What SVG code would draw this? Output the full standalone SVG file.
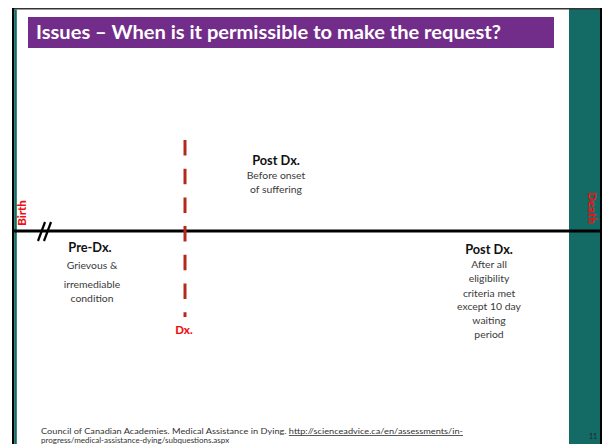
<svg xmlns="http://www.w3.org/2000/svg" width="602" height="444" viewBox="0 0 602 444">
<style>
text{font-family:Lato,"Liberation Sans",Arial,sans-serif}
.h{font-weight:bold;font-size:12.8px;fill:#111;text-anchor:middle}
.b{font-size:10.4px;fill:#3a3a3a;text-anchor:middle}
.red{font-weight:900;font-size:11.5px;fill:#ee1111}
.foot{font-size:8px;fill:#333}
</style>
<rect x="0" y="0" width="602" height="444" fill="#fff"/>
<g id="frame">
<rect x="569" y="9" width="31" height="435" fill="#146b66"/>
<line x1="12" y1="8.8" x2="602" y2="8.8" stroke="#333" stroke-width="1.6"/>
<rect x="12" y="8" width="2.2" height="436" fill="#000"/>
<rect x="14.2" y="9.5" width="2.6" height="434.5" fill="#146b66"/>
<rect x="600" y="8" width="2" height="436" fill="#000"/>
<text x="593" y="439" font-size="7" fill="#222" text-anchor="middle">11</text>
</g>
<g id="title">
<rect x="28" y="17" width="526" height="31" fill="#722d8a"/>
<text x="36" y="39" font-size="18" font-weight="bold" fill="#fff" textLength="465" lengthAdjust="spacingAndGlyphs">Issues – When is it permissible to make the request?</text>
</g>
<g id="connectors">
<line x1="14" y1="231" x2="600" y2="231" stroke="#000" stroke-width="3"/>
<line x1="185" y1="140" x2="185" y2="317" stroke="#b5281c" stroke-width="3" stroke-dasharray="15.5 13.2"/>
<line x1="38" y1="241" x2="45" y2="222" stroke="#000" stroke-width="2.2"/>
<line x1="44" y1="241" x2="51" y2="222" stroke="#000" stroke-width="2.2"/>
</g>
<g id="birth">
<text class="red" transform="translate(26,213) rotate(-90)" text-anchor="middle">Birth</text>
</g>
<g id="death">
<text class="red" transform="translate(588,208) rotate(90)" text-anchor="middle">Death</text>
</g>
<g id="dx">
<text class="red" x="184" y="334" text-anchor="middle">Dx.</text>
</g>
<g id="pre-dx">
<text class="h" x="90" y="252">Pre-Dx.</text>
<text class="b" x="92" y="269">Grievous &amp;</text>
<text class="b" x="92" y="288">irremediable</text>
<text class="b" x="92" y="302">condition</text>
</g>
<g id="post-dx-1">
<text class="h" x="276" y="165">Post Dx.</text>
<text class="b" x="276" y="179">Before onset</text>
<text class="b" x="276" y="193">of suffering</text>
</g>
<g id="post-dx-2">
<text class="h" x="489" y="254">Post Dx.</text>
<text class="b" x="489" y="268">After all</text>
<text class="b" x="489" y="282">eligibility</text>
<text class="b" x="489" y="297">criteria met</text>
<text class="b" x="489" y="310">except 10 day</text>
<text class="b" x="489" y="324">waiting</text>
<text class="b" x="489" y="338">period</text>
</g>
<g id="footer">
<text class="foot" x="41" y="434" textLength="422" lengthAdjust="spacingAndGlyphs">Council of Canadian Academies. Medical Assistance in Dying. <tspan text-decoration="underline">http://scienceadvice.ca/en/assessments/in-</tspan></text>
<text class="foot" x="41" y="443" text-decoration="underline">progress/medical-assistance-dying/subquestions.aspx</text>
</g>
</svg>
